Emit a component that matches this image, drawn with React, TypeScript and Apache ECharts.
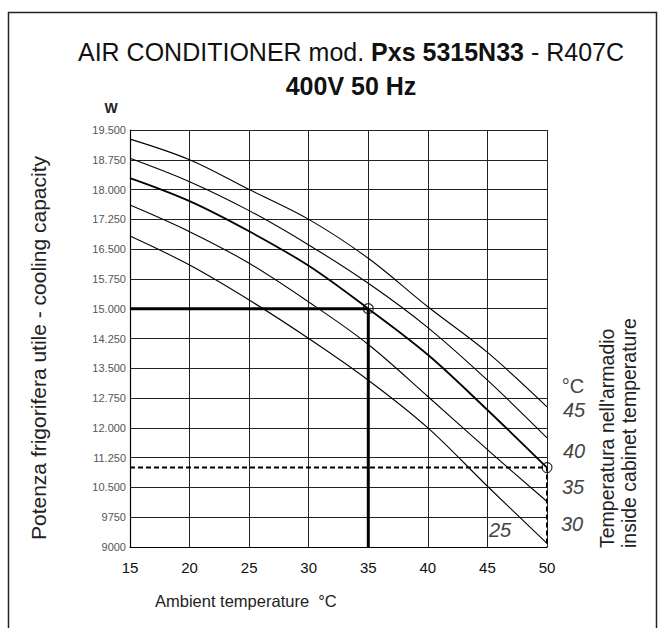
import React, { useEffect, useRef } from "react";
import * as echarts from "echarts";

const ambientTemps = [15, 20, 25, 30, 35, 40, 45, 50];
const cabinetTemps = ["25", "30", "35", "40", "45"];
const cap25 = [16830, 16100, 15220, 14250, 13200, 12000, 10530, 9090];
const cap30 = [17610, 16940, 16145, 15170, 14100, 12790, 11450, 10145];
const cap35 = [18290, 17710, 16950, 16080, 15000, 13840, 12450, 11000];
const cap40 = [18790, 18200, 17470, 16606, 15640, 14525, 13200, 11750];
const cap45 = [19270, 18750, 18000, 17250, 16270, 15050, 13900, 12530];
const yTickLabels = [
  "9000", "9750", "10.500", "11.250", "12.000", "12.750", "13.500", "14.250",
  "15.000", "15.750", "16.500", "17.250", "18.000", "18.750", "19.500",
];
const nominalPoint = [35, 15000];
const limitPoint = [50, 11000];

const FONT = "'Liberation Sans', Arial, sans-serif";

export default function App() {
  const ref = useRef<HTMLDivElement>(null);
  useEffect(() => {
    document.body.style.margin = "0";
    const chart = echarts.init(ref.current!, null, { renderer: "svg" });
    const curves = [cap25, cap30, cap35, cap40, cap45];
    const curveSeries = curves.map((arr, i) => ({
      type: "line",
      name: cabinetTemps[i],
      data: ambientTemps.map((t, j) => [t, arr[j]]),
      smooth: 0.35,
      symbol: "none",
      lineStyle: { color: "#000", width: i === 2 ? 1.8 : 1.1 },
      z: 3,
    }));
    const option: any = {
      animation: false,
      backgroundColor: "#fff",
      textStyle: { fontFamily: FONT },
      grid: { left: 130, right: 118, top: 130, bottom: 81 },
      xAxis: {
        type: "value",
        min: 15,
        max: 50,
        interval: 5,
        axisLine: { lineStyle: { color: "#000", width: 1.2 } },
        axisTick: { show: false },
        splitLine: { show: true, lineStyle: { color: "#222", width: 1 } },
        axisLabel: { color: "#111", fontSize: 15, margin: 13, fontFamily: FONT },
      },
      yAxis: {
        type: "value",
        min: 9000,
        max: 19500,
        interval: 750,
        axisLine: { show: true, lineStyle: { color: "#000", width: 1.2 } },
        axisTick: { show: false },
        splitLine: { show: true, lineStyle: { color: "#222", width: 1 } },
        axisLabel: {
          color: "#555",
          fontSize: 11,
          margin: 4,
          fontFamily: FONT,
          formatter: (v: number) => yTickLabels[Math.round((v - 9000) / 750)],
        },
      },
      series: [
        ...curveSeries,
        {
          type: "line",
          data: [[15, nominalPoint[1]], nominalPoint, [nominalPoint[0], 9000]],
          symbol: "none",
          lineStyle: { color: "#000", width: 3 },
          z: 4,
        },
        {
          type: "line",
          data: [[15, limitPoint[1]], limitPoint, [limitPoint[0], 9000]],
          symbol: "none",
          lineStyle: { color: "#000", width: 2, type: [5, 3] },
          z: 4,
        },
        {
          type: "scatter",
          data: [nominalPoint, limitPoint],
          symbol: "circle",
          symbolSize: 10,
          itemStyle: { color: "rgba(255,255,255,0)", borderColor: "#000", borderWidth: 1.2 },
          z: 5,
        },
      ],
      graphic: [
        {
          type: "rect",
          shape: { x: 8.5, y: 12.5, width: 648, height: 660 },
          style: { fill: "none", stroke: "#222", lineWidth: 1.5 },
          silent: true,
        },
        {
          type: "text",
          x: 351,
          y: 52,
          style: {
            text: "{n|AIR CONDITIONER mod. }{b|Pxs 5315N33}{n| - R407C}",
            align: "center",
            verticalAlign: "middle",
            rich: {
              n: { fontSize: 25, fontFamily: FONT, fill: "#111" },
              b: { fontSize: 25, fontFamily: FONT, fontWeight: "bold", fill: "#111" },
            },
          },
        },
        {
          type: "text",
          x: 351,
          y: 86,
          style: {
            text: "400V 50 Hz",
            align: "center",
            verticalAlign: "middle",
            fontSize: 25,
            fontWeight: "bold",
            fontFamily: FONT,
            fill: "#111",
          },
        },
        {
          type: "text",
          x: 111,
          y: 108,
          style: { text: "W", align: "center", verticalAlign: "middle", fontSize: 14, fontWeight: "bold", fontFamily: FONT, fill: "#222" },
        },
        {
          type: "text",
          x: 38,
          y: 348,
          rotation: Math.PI / 2,
          style: {
            text: "Potenza frigorifera utile - cooling capacity",
            align: "center",
            verticalAlign: "middle",
            fontSize: 21,
            fontFamily: FONT,
            fill: "#222",
          },
        },
        {
          type: "text",
          x: 155,
          y: 601,
          style: { text: "Ambient temperature  °C", align: "left", verticalAlign: "middle", fontSize: 16.5, fontFamily: FONT, fill: "#222" },
        },
        {
          type: "text",
          x: 607,
          y: 548,
          rotation: Math.PI / 2,
          style: { text: "Temperatura nell'armadio", align: "left", verticalAlign: "middle", fontSize: 19.5, fontFamily: FONT, fill: "#222" },
        },
        {
          type: "text",
          x: 629,
          y: 548,
          rotation: Math.PI / 2,
          style: { text: "inside cabinet temperature", align: "left", verticalAlign: "middle", fontSize: 19.5, fontFamily: FONT, fill: "#222" },
        },
        { type: "text", x: 573, y: 386, style: { text: "°C", align: "center", verticalAlign: "middle", fontSize: 20, fontFamily: FONT, fill: "#444" } },
        { type: "text", x: 574, y: 410, style: { text: cabinetTemps[4], align: "center", verticalAlign: "middle", fontSize: 20, fontStyle: "italic", fontFamily: FONT, fill: "#444" } },
        { type: "text", x: 574, y: 451, style: { text: cabinetTemps[3], align: "center", verticalAlign: "middle", fontSize: 20, fontStyle: "italic", fontFamily: FONT, fill: "#444" } },
        { type: "text", x: 573, y: 487, style: { text: cabinetTemps[2], align: "center", verticalAlign: "middle", fontSize: 20, fontStyle: "italic", fontFamily: FONT, fill: "#444" } },
        { type: "text", x: 572, y: 524, style: { text: cabinetTemps[1], align: "center", verticalAlign: "middle", fontSize: 20, fontStyle: "italic", fontFamily: FONT, fill: "#444" } },
        { type: "text", x: 500, y: 530, style: { text: cabinetTemps[0], align: "center", verticalAlign: "middle", fontSize: 20, fontStyle: "italic", fontFamily: FONT, fill: "#444" } },
      ],
    };
    chart.setOption(option);
    return () => chart.dispose();
  }, []);
  return <div ref={ref} style={{ width: 665, height: 628 }} />;
}
